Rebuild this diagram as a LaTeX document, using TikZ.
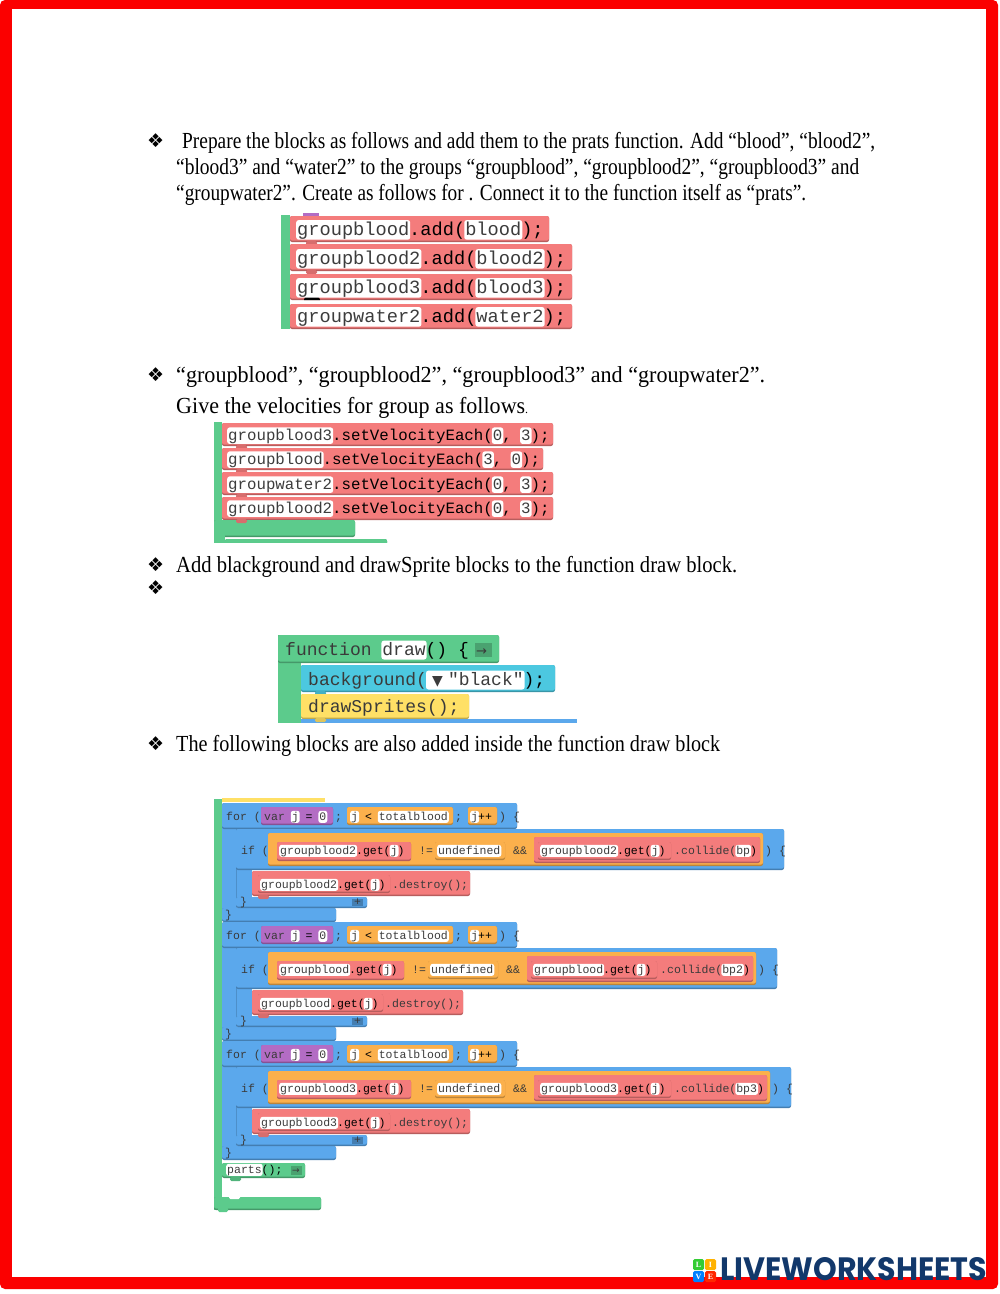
\documentclass[tikz,border=0pt]{standalone}
\usepackage{fontspec}
\usepackage{graphicx}
\setmainfont{Liberation Serif}
\setmonofont{Liberation Mono}
\newfontfamily\dejavu{DejaVu Sans}
\newfontfamily\logofont{Poppins}
\definecolor{frame}{HTML}{FB0000}
\definecolor{rblock}{HTML}{F47C7C}
\definecolor{gblock}{HTML}{5CCB8C}
\definecolor{bblock}{HTML}{5BA8EC}
\definecolor{oblock}{HTML}{FBB04C}
\definecolor{pblock}{HTML}{B36CC4}
\definecolor{cblock}{HTML}{4CC8E0}
\definecolor{yblock}{HTML}{FFE066}
\definecolor{navy}{HTML}{12386B}
\definecolor{codeink}{HTML}{3A3A3A}
\definecolor{fieldink}{HTML}{3C3C3C}
\tikzset{
  bodytext/.style={anchor=base west,inner sep=0pt,font=\fontsize{23}{25}\selectfont},
  bullet/.style={anchor=base west,inner sep=0pt,font=\dejavu\fontsize{19}{21}\selectfont},
  code/.style={anchor=base west,inner sep=0pt,text=codeink},
  codeL/.style={code,font=\ttfamily\fontsize{18.67}{20}\selectfont},
  codeM/.style={code,font=\ttfamily\fontsize{15.75}{18}\selectfont},
  codeF/.style={code,font=\ttfamily\fontsize{18}{20}\selectfont},
  codeS/.style={code,font=\ttfamily\fontsize{11.5}{13}\selectfont},
  fieldbox/.style={fill=white,rounded corners=2.5pt,inner xsep=1pt,inner ysep=0pt,
    text=fieldink,text height=.8em,text depth=.25em},
  logoletter/.style={anchor=center,inner sep=0pt,text=white,font=\bfseries\fontsize{8}{9}\selectfont}
}
% the field ends by setting the ink again
\newcommand{\fld}[1]{\hspace*{-1pt}\tikz[baseline=(fld.base)]\node[fieldbox] (fld) {#1};\hspace*{-1pt}\color{black}\relax}
\newcommand{\blk}[5]{%
  \fill[#1!75!black,rounded corners=2pt] (#2,#3) rectangle (#4,#5);
  \fill[#1,rounded corners=2pt] (#2,#3) rectangle (#4,#5-1.5);}
\newcommand{\tabb}[3]{\fill[#1!88!black,rounded corners=1.5pt] (#2+6,#3-1) rectangle (#2+17,#3+3);}
\newcommand{\pline}[5]{\node[bodytext] (#1) at (#2,#3) {\resizebox{#4pt}{\height}{#5}};}
\begin{document}
\begin{tikzpicture}[x=1pt,y=-1pt]
\useasboundingbox (0,0) rectangle (1000,1294);
\fill[white] (0,0) rectangle (1000,1294);
\fill[frame,rounded corners=5pt] (0,0) rectangle (998,1289);
\fill[white] (12,9) rectangle (986,1277);
% first text
\node[bullet] (bull1) at (147,147) {❖};
\pline{line1}{182}{148}{693}{Prepare the blocks as follows and add them to the prats function. Add “blood”, “blood2”,}
\pline{line2}{176}{174}{683}{“blood3” and “water2” to the groups “groupblood”, “groupblood2”, “groupblood3” and}
\pline{line3}{176}{200}{630}{“groupwater2”. Create as follows for . Connect it to the function itself as “prats”.}
% add blocks
\fill[gblock] (281,215) rectangle (290,329);
\fill[pblock] (303,213) rectangle (319,217);
\blk{rblock}{290}{216}{549}{242}
\tabb{rblock}{300}{242}
\blk{rblock}{290}{244}{572}{271}
\tabb{rblock}{300}{271}
\blk{rblock}{290}{274}{572}{300}
\blk{rblock}{290}{304}{572}{329}
\fill[black] (304,300) arc[start angle=180,end angle=360,x radius=8,y radius=5] -- cycle;
\node[codeL] (add1) at (297,235) {\fld{groupblood}.add(\fld{blood});};
\node[codeL] (add2) at (297,264) {\fld{groupblood2}.add(\fld{blood2});};
\node[codeL] (add3) at (297,293) {\fld{groupblood3}.add(\fld{blood3});};
\node[codeL] (add4) at (297,322) {\fld{groupwater2}.add(\fld{water2});};
% second text
\node[bullet] (bull2) at (147,381) {❖};
\pline{line4}{176}{382}{589}{“groupblood”, “groupblood2”, “groupblood3” and “groupwater2”.}
\pline{line5}{176}{413}{349}{Give the velocities for group as follows}
\node[bodytext,font=\fontsize{12}{14}\selectfont] (dot) at (525,413) {.};
% velocity blocks
\fill[gblock] (214,422) rectangle (222,537);
\blk{rblock}{222}{423}{553}{446}
\tabb{rblock}{230}{446}
\blk{rblock}{222}{448}{543}{470}
\tabb{rblock}{230}{470}
\blk{rblock}{222}{472}{553}{495}
\tabb{rblock}{230}{495}
\blk{rblock}{222}{497}{553}{520}
\blk{gblock}{214}{520}{355}{537}
\tabb{rblock}{230}{520}
\blk{gblock}{225}{539}{387}{546}
\fill[gblock] (214,530) rectangle (225,543);
\fill[white] (180,543) rectangle (600,548);
\node[codeM] (vel1) at (228,440) {\fld{groupblood3}.setVelocityEach(\fld{0}, \fld{3});};
\node[codeM] (vel2) at (228,464) {\fld{groupblood}.setVelocityEach(\fld{3}, \fld{0});};
\node[codeM] (vel3) at (228,489) {\fld{groupwater2}.setVelocityEach(\fld{0}, \fld{3});};
\node[codeM] (vel4) at (228,513) {\fld{groupblood2}.setVelocityEach(\fld{0}, \fld{3});};
% third text
\node[bullet] (bull3) at (147,571) {❖};
\pline{line6}{176}{572}{561}{Add blackground and drawSprite blocks to the function draw block.}
\node[bullet] (bull4) at (147,594) {❖};
% draw function
\fill[gblock] (278,635) rectangle (301,723);
\blk{gblock}{278}{635}{499}{663}
\blk{cblock}{301}{665}{555}{692}
\tabb{cblock}{309}{692}
\blk{yblock}{301}{694}{469}{719}
\fill[bblock] (301,719) rectangle (577,723);
\tabb{yblock}{309}{719}
\fill[gblock!80!black] (475,643) rectangle (492,657);
\node[codeF] (fun) at (285,655) {function \fld{draw}() \{};
\node[code,font=\dejavu\fontsize{13}{14}\selectfont] (funarr) at (476,655) {→};
\node[codeF] (backg) at (308,685) {background(\fld{\makebox[21pt]{\dejavu\fontsize{14}{15}\selectfont▼}"black"});};
\node[codeF] (spr) at (308,712) {drawSprites();};
% fourth text
\node[bullet] (bull5) at (147,750) {❖};
\pline{line7}{176}{751}{544}{The following blocks are also added inside the function draw block}
% big code block
\fill[gblock] (214,799) rectangle (222,1210);
\fill[yblock] (222,798) rectangle (325,802);
\foreach \yy/\gname/\hit/\dg/\db [count=\n] in {0/groupblood2/bp/0/0,119/groupblood/bp2/-7/7,238/groupblood3/bp3/0/7}{
  \begin{scope}[shift={(0,\yy)}]
  % for
  \fill[bblock] (222,815) rectangle (237,915);
  \blk{bblock}{222}{803}{517}{829}
  \blk{bblock}{222}{908}{336}{922}
  \blk{pblock}{261}{807}{333}{825}
  \blk{oblock}{347}{807}{453}{825}
  \blk{oblock}{468}{807}{497}{825}
  \node[codeS] (for\n) at (226,820) {for (};
  \node[codeS] (var\n) at (264,820) {var \fld{j} = \fld{0}};
  \node[codeS] (semi\n) at (335,820) {;};
  \node[codeS] (cond\n) at (351,820) {\fld{j} < \fld{totalblood}};
  \node[codeS] (semb\n) at (455,820) {;};
  \node[codeS] (inc\n) at (471,820) {\fld{j}++};
  \node[codeS] (open\n) at (499,820) {) \{};
  % if
  \fill[bblock!85!black] (236,829) rectangle (237,905);
  \fill[bblock] (237,865) rectangle (252,900);
  \blk{bblock}{236}{829}{784+2*\dg+\db}{870}
  \blk{bblock}{236}{897}{367}{908}
  \fill[bblock!75!black] (352,899) rectangle (363,906);
  \blk{oblock}{268}{833}{763+2*\dg+\db}{866}
  \blk{rblock}{277}{842}{411+\dg}{861}
  \blk{oblock}{435+\dg}{842}{505+\dg}{860}
  \blk{rblock}{534+\dg}{837}{760+2*\dg+\db}{863}
  \blk{rblock}{538+\dg}{842}{671+2*\dg}{860}
  \node[codeS] (if\n) at (241,854) {if (};
  \node[codeS] (get\n) at (280,854) {\fld{\gname}.get(\fld{j})};
  \node[codeS] (neq\n) at (419+\dg,854) {!=};
  \node[codeS] (undef\n) at (438+\dg,854) {\fld{undefined}};
  \node[codeS] (and\n) at (513+\dg,854) {\&\&};
  \node[codeS] (gett\n) at (541+\dg,854) {\fld{\gname}.get(\fld{j})};
  \node[codeS] (coll\n) at (674+2*\dg,854) {.collide(\fld{\hit})};
  \node[codeS] (close\n) at (765+2*\dg+\db,854) {) \{};
  % destroy
  \blk{rblock}{252}{871}{470+\dg}{896}
  \blk{rblock}{258}{875}{390+\dg}{893}
  \tabb{rblock}{252}{896}
  \node[codeS] (des\n) at (261,888) {\fld{\gname}.get(\fld{j})};
  \node[codeS] (dest\n) at (392+\dg,888) {.destroy();};
  \node[codeS] (brace\n) at (240,905) {\}};
  \node[codeS] (plus\n) at (354,905) {+};
  \node[codeS] (bracf\n) at (225,918) {\}};
  \end{scope}
}
% end of draw
\blk{gblock}{222}{1163}{305}{1178}
\tabb{gblock}{224}{1178}
\fill[gblock!80!black] (291,1166) rectangle (302,1175);
\node[codeS] (parts) at (227,1173) {\fld{parts}();};
\node[code,font=\dejavu\fontsize{9}{10}\selectfont] (partarr) at (292,1173) {→};
\blk{gblock}{214}{1197}{321}{1210}
\fill[gblock,rounded corners=1.5pt] (218,1207) rectangle (228,1212);
\fill[white,rounded corners=1.5pt] (229,1194) rectangle (240,1199);
% logo
\fill[green!60!gray,rounded corners=1.5pt] (693,1259) rectangle (704,1270);
\fill[orange!60!yellow,rounded corners=1.5pt] (705,1259) rectangle (716,1270);
\fill[blue!50!cyan,rounded corners=1.5pt] (693,1271) rectangle (704,1282);
\fill[red!70!orange,rounded corners=1.5pt] (705,1271) rectangle (716,1282);
\node[logoletter] (logoL) at (698.5,1264.5) {L};
\node[logoletter] (logoI) at (710.5,1264.5) {I};
\node[logoletter] (logoV) at (698.5,1276.5) {V};
\node[logoletter] (logoE) at (710.5,1276.5) {E};
\node[anchor=base west,inner sep=0pt,text=navy] (logo) at (720,1280) {\resizebox{267pt}{23pt}{\logofont\bfseries LIVEWORKSHEETS}};
\end{tikzpicture}
\end{document}
